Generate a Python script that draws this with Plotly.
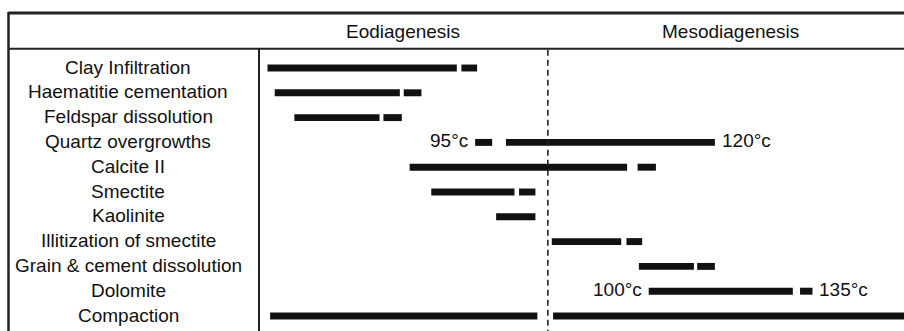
import plotly.graph_objects as go

# ---- data (relative diagenetic time, 0 = start, 100 = end of chart) ----
processes = [
    "Clay Infiltration", "Haematitie cementation", "Feldspar dissolution",
    "Quartz overgrowths", "Calcite II", "Smectite", "Kaolinite",
    "Illitization of smectite", "Grain & cement dissolution", "Dolomite",
    "Compaction",
]
seg_start = [
    [1.3, 30.9], [2.4, 22.1], [5.4, 19.0], [33.0, 37.7], [23.0, 57.8],
    [26.3, 39.7], [36.2], [44.7, 56.1], [58.0, 66.9], [59.5, 82.6], [1.7, 44.9],
]
seg_end = [
    [30.2, 33.3], [21.5, 24.8], [18.4, 21.8], [35.6, 69.6], [56.2, 60.6],
    [39.0, 42.2], [42.2], [55.3, 58.5], [66.4, 69.6], [81.5, 84.5], [42.5, 99.5],
]
stages = ["Eodiagenesis", "Mesodiagenesis"]
stage_boundary = 44.1

temp_rows = ["Quartz overgrowths", "Quartz overgrowths", "Dolomite", "Dolomite"]
temp_text = ["95°c", "120°c", "100°c", "135°c"]
temp_x = [33.0, 69.6, 59.5, 84.5]
temp_side = ["left", "right", "left", "right"]

# ---- layout constants ----
W, H = 904, 331
FONT = "Liberation Sans, Arial, Helvetica, sans-serif"
FS = 19
INK = "#111111"
row_px0, row_step = 68.0, 24.8
left_px, col_px, top_px, hdr_px = 8.5, 259.0, 13.0, 48.7
x_full_px = 655.0  # pixels for 100 units
x_max = (W - col_px) / x_full_px * 100

ys, bases, lens = [], [], []
for p, ss, ee in zip(processes, seg_start, seg_end):
    for s, e in zip(ss, ee):
        ys.append(p)
        bases.append(s)
        lens.append(e - s)

fig = go.Figure()
fig.add_trace(go.Bar(
    y=ys, x=lens, base=bases, orientation="h",
    marker=dict(color=INK, line=dict(width=0)),
    width=0.28, hoverinfo="skip", showlegend=False,
))

annotations = []
for p in processes:
    annotations.append(dict(
        x=128 / W, xref="paper", y=p, yref="y", text=p, showarrow=False,
        xanchor="center", yanchor="middle", yshift=1,
        font=dict(family=FONT, size=FS, color=INK),
    ))
for r, t, x, side in zip(temp_rows, temp_text, temp_x, temp_side):
    annotations.append(dict(
        x=x, xref="x", y=r, yref="y", text=t, showarrow=False,
        xanchor="right" if side == "left" else "left",
        xshift=-5 if side == "left" else 5, yanchor="middle", yshift=2,
        font=dict(family=FONT, size=FS, color=INK),
    ))
stage_centers = [stage_boundary / 2, (stage_boundary + 100) / 2]
for s, c in zip(stages, stage_centers):
    annotations.append(dict(
        x=c, xref="x", y=1 - 32 / H, yref="paper", text=s, showarrow=False,
        xanchor="center", yanchor="middle",
        font=dict(family=FONT, size=FS, color=INK),
    ))

def py(p):
    return 1 - p / H

shapes = [
    dict(type="line", xref="paper", yref="paper", x0=left_px / W, x1=1.01,
         y0=py(top_px), y1=py(top_px), line=dict(color="#222", width=3)),
    dict(type="line", xref="paper", yref="paper", x0=left_px / W, x1=1.01,
         y0=py(hdr_px), y1=py(hdr_px), line=dict(color="#222", width=2)),
    dict(type="line", xref="paper", yref="paper", x0=left_px / W, x1=left_px / W,
         y0=py(top_px - 1), y1=-0.01, line=dict(color="#222", width=2.5)),
    dict(type="line", xref="paper", yref="paper", x0=col_px / W, x1=col_px / W,
         y0=py(hdr_px), y1=-0.01, line=dict(color="#222", width=2)),
    dict(type="line", xref="x", yref="paper", x0=stage_boundary, x1=stage_boundary,
         y0=py(hdr_px + 1), y1=-0.01, line=dict(color="#222", width=1.6, dash="6px,4px")),
]

y_top = -row_px0 / row_step
y_bot = (H - row_px0) / row_step

fig.update_layout(
    width=W, height=H, margin=dict(l=0, r=0, t=0, b=0),
    paper_bgcolor="white", plot_bgcolor="white",
    barmode="overlay",
    xaxis=dict(domain=[col_px / W, 1], range=[0, x_max], showgrid=False,
               zeroline=False, showticklabels=False, showline=False, fixedrange=True),
    yaxis=dict(type="category", categoryorder="array", categoryarray=processes,
               range=[y_bot, y_top], showgrid=False, zeroline=False,
               showticklabels=False, showline=False, fixedrange=True),
    annotations=annotations, shapes=shapes,
)

fig.write_html("out.html")
